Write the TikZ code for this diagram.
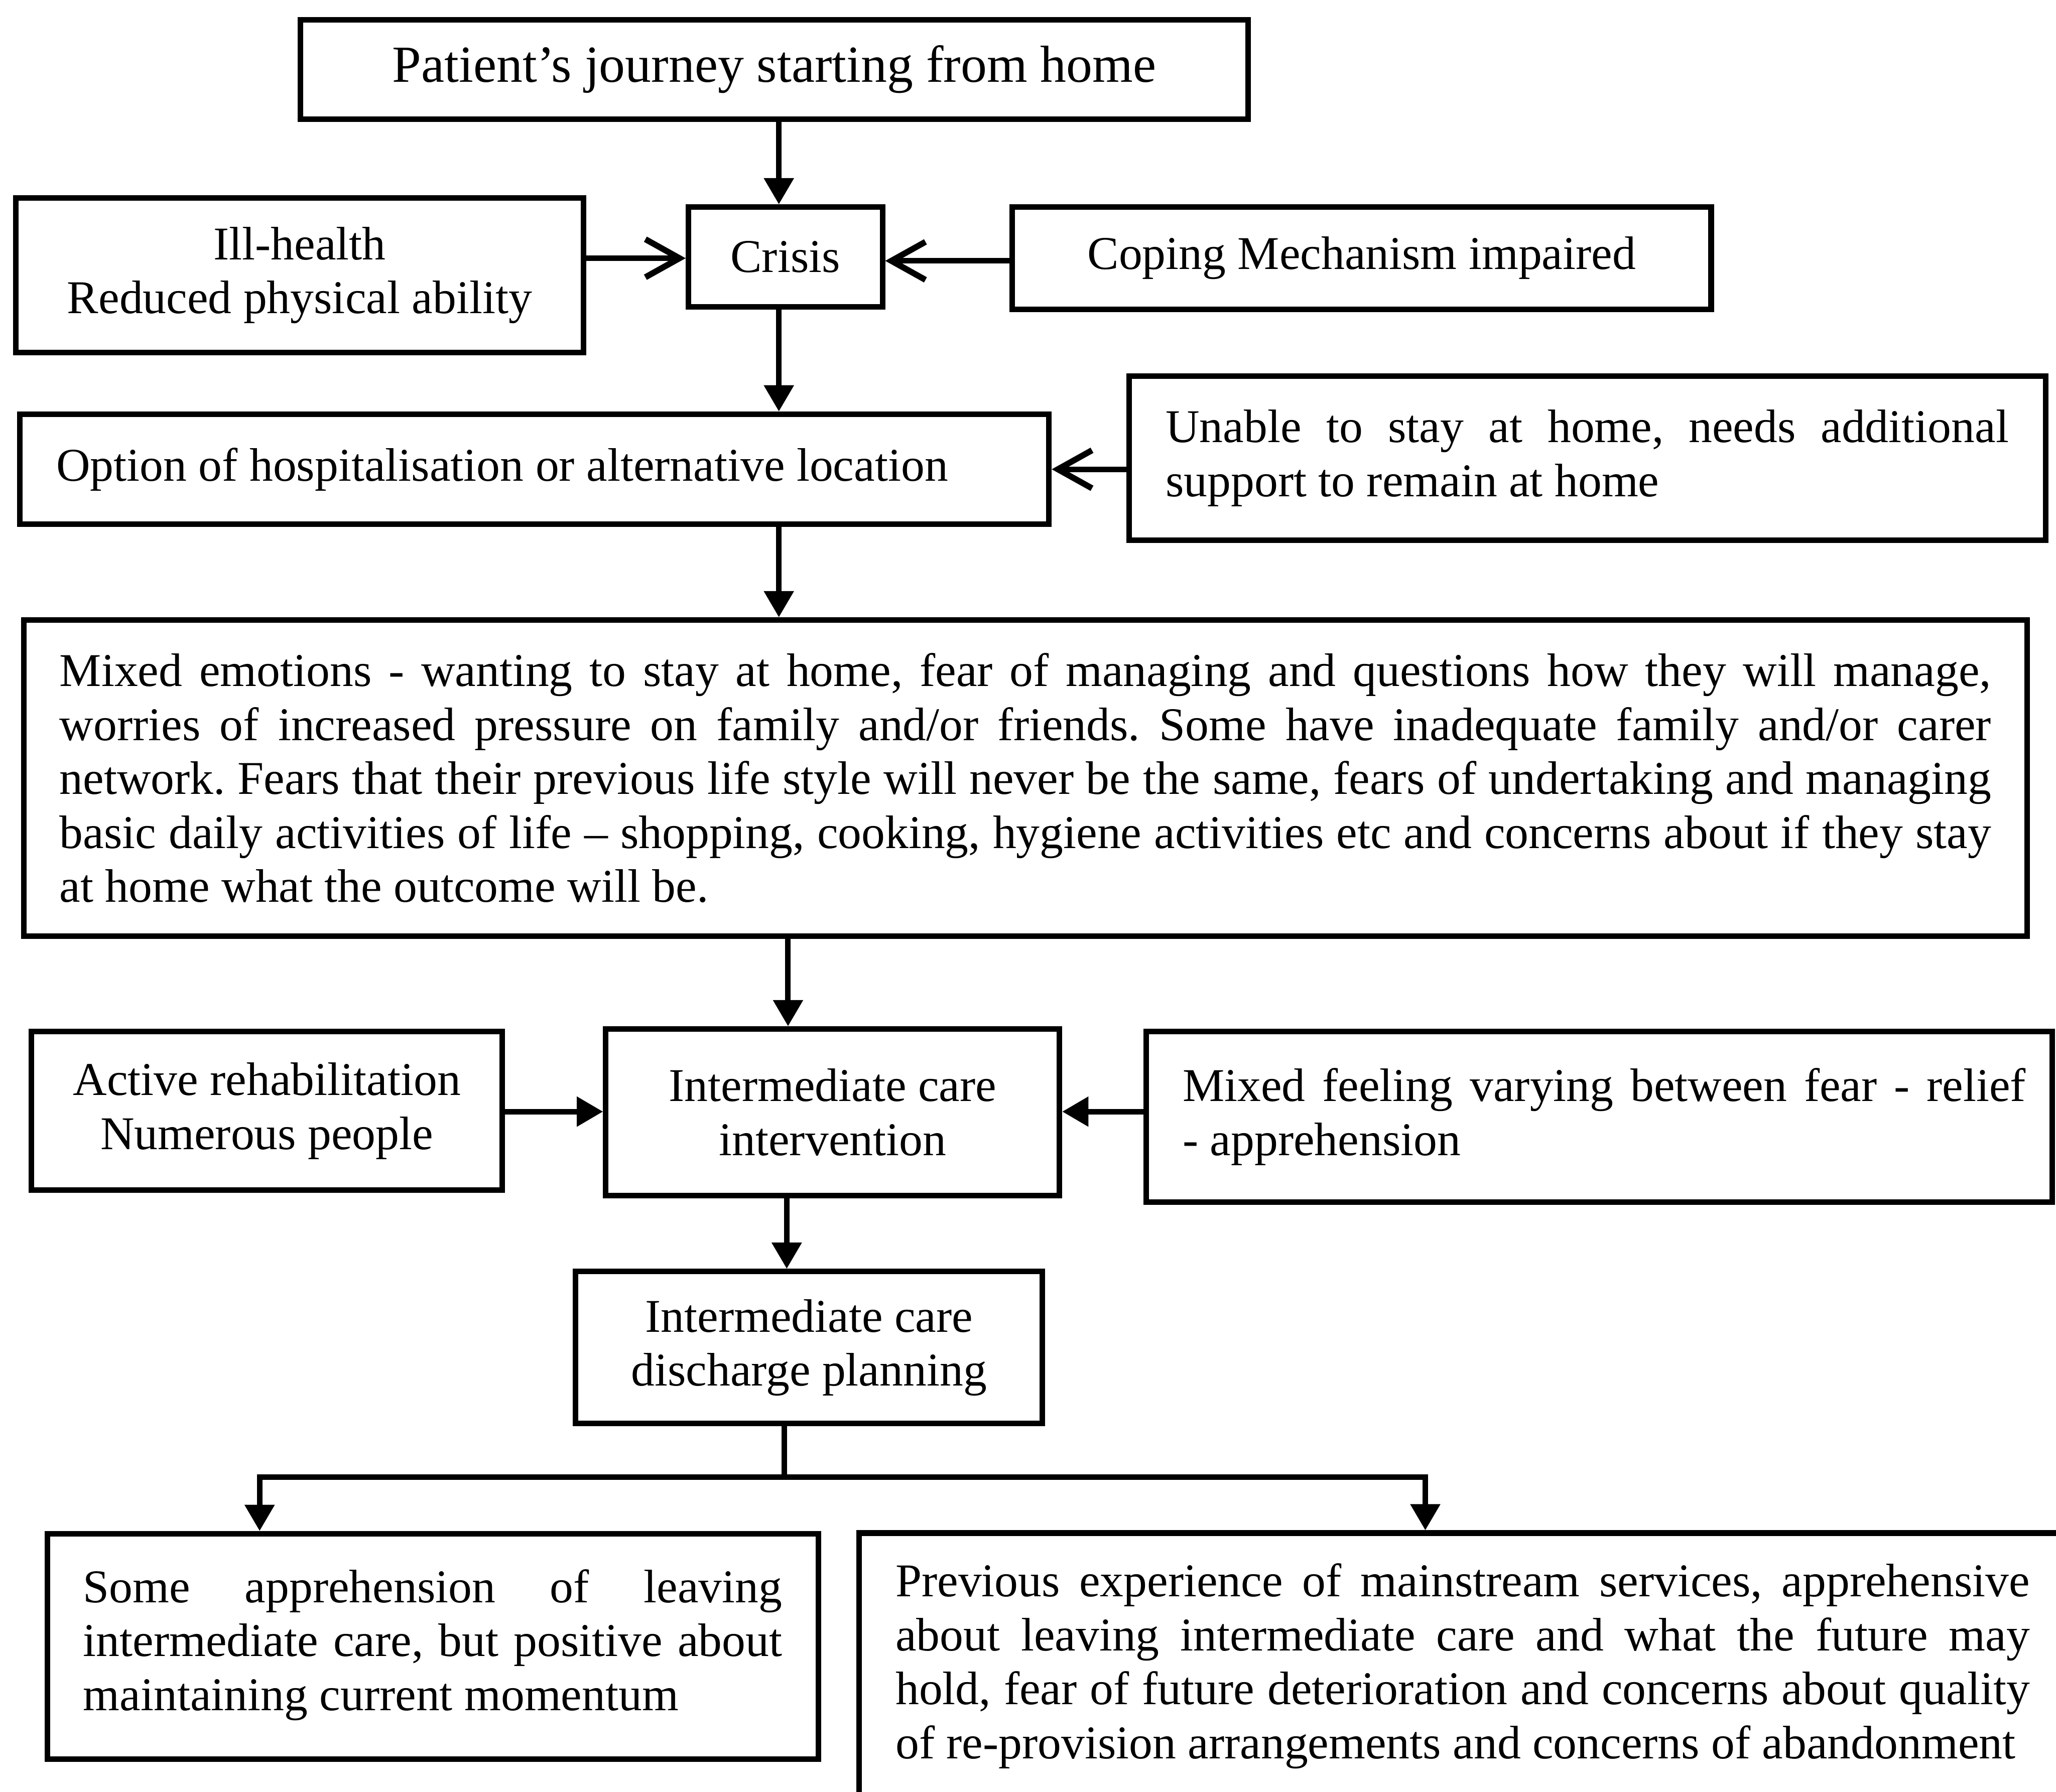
\documentclass[tikz,border=0pt]{standalone}
\usepackage{fontspec}
\setmainfont{Liberation Serif}
\usetikzlibrary{arrows.meta}
% natural (font) interword spaces, no extra space after full stops
\newcommand{\natsp}{\spaceskip=0pt\xspaceskip=0pt\frenchspacing\relax}
% a justified line of a fixed width
\newcommand{\jline}[2]{\makebox[#1][s]{\natsp #2}}
\begin{document}
\begin{tikzpicture}[x=0.1mm,y=-0.1mm,
  box/.style={draw, line width=1.2pt, inner sep=0pt, align=center,
    font=\fontsize{10.2pt}{11.7pt}\selectfont},
  para/.style={box, align=left},
  conn/.style={line width=1.2pt},
  fa/.style={conn, -{Triangle[length=2.0mm,width=2.2mm]}},
  oa/.style={conn, -{Straight Barb[length=2.6mm,width=2.9mm,line width=1.3pt]}}]
\useasboundingbox (0,0) rectangle (1568,1366.8);
\clip (0,0) rectangle (1568,1366.8);

% boxes
\node[box, minimum width=72.3mm, minimum height=7.6mm,
  font=\fontsize{11.3pt}{13pt}\selectfont] (title) at (590.5,53)
  {\natsp\raisebox{-0.25mm}{Patient’s journey starting from home}};
\node[box, minimum width=43.3mm, minimum height=11.8mm] (ill) at (228.5,210)
  {\natsp Ill-health\\Reduced physical ability};
\node[box, minimum width=14.8mm, minimum height=7.6mm] (crisis) at (599,196)
  {\natsp Crisis};
\node[box, minimum width=53.3mm, minimum height=7.8mm] (coping) at (1038.5,197)
  {\natsp Coping Mechanism impaired};
\node[para, minimum width=78.5mm, minimum height=8.4mm, text width=72.9mm] (option) at (407.5,358)
  {\natsp Option of hospitalisation or alternative location};
\node[para, minimum width=69.9mm, minimum height=12.5mm, text width=64.3mm] (unable) at (1210.5,349.5)
  {\natsp\jline{64.3mm}{Unable to stay at home, needs additional}\\
   support to remain at home};
\node[para, minimum width=152.8mm, minimum height=24.1mm, text width=147.3mm] (mixed) at (782,593.5)
  {\natsp\jline{147.3mm}{Mixed emotions - wanting to stay at home, fear of managing and questions how they will manage,}\\
   \jline{147.3mm}{worries of increased pressure on family and/or friends. Some have inadequate family and/or carer}\\
   \jline{147.3mm}{network. Fears that their previous life style will never be the same, fears of undertaking and managing}\\
   \jline{147.3mm}{basic daily activities of life – shopping, cooking, hygiene activities etc and concerns about if they stay}\\
   at home what the outcome will be.};
\node[box, minimum width=35.9mm, minimum height=12.1mm] (active) at (203.5,847.5)
  {\natsp Active rehabilitation\\Numerous people};
\node[box, minimum width=34.6mm, minimum height=12.7mm] (interv) at (635,848.5)
  {\natsp Intermediate care\\intervention};
\node[para, minimum width=69.1mm, minimum height=13.0mm, text width=63.5mm] (feeling) at (1219.5,852)
  {\natsp\jline{64.3mm}{Mixed feeling varying between fear - relief}\\
   - apprehension};
\node[box, minimum width=35.6mm, minimum height=11.6mm] (discharge) at (617,1028)
  {\natsp Intermediate care\\discharge planning};
\node[para, minimum width=58.8mm, minimum height=17.2mm, text width=53.3mm] (leftb) at (330,1256)
  {\natsp\jline{53.3mm}{Some apprehension of leaving}\\
   \jline{53.3mm}{intermediate care, but positive about}\\
   maintaining current momentum\rule[-1.0mm]{0pt}{0pt}};
\node[para, minimum width=92.1mm, minimum height=20.3mm, text width=86.5mm] (rightb) at (1115.5,1271)
  {\natsp\jline{86.5mm}{Previous experience of mainstream services, apprehensive}\\
   \jline{86.5mm}{about leaving intermediate care and what the future may}\\
   \jline{86.5mm}{hold, fear of future deterioration and concerns about quality}\\
   of re-provision arrangements and concerns of abandonment};

% guide points for the connectors
\coordinate (sp) at (594,0);
\coordinate (sp2) at (601,0);
\coordinate (sp3) at (600,0);
\coordinate (fork) at (598,1127);
\coordinate (bl) at (198,1127);
\coordinate (br) at (1087,1127);
\coordinate (h1) at (0,197);
\coordinate (h2) at (0,199);
\coordinate (h3) at (0,358);
\coordinate (h4) at (0,848);

% main flow
\draw[fa] (title.south -| sp) -- (crisis.north -| sp);
\draw[fa] (crisis.south -| sp) -- (option.north -| sp);
\draw[fa] (option.south -| sp) -- (mixed.north -| sp);
\draw[fa] (mixed.south -| sp2) -- (interv.north -| sp2);
\draw[fa] (interv.south -| sp3) -- (discharge.north -| sp3);
\draw[fa] (discharge.south -| fork) -- (fork) -| (leftb.north -| bl);
\draw[fa] (fork) -| (rightb.north -| br);

% side inputs
\draw[oa] (ill.east |- h1) -- (crisis.west |- h1);
\draw[oa] (coping.west |- h2) -- (crisis.east |- h2);
\draw[oa] (unable.west |- h3) -- (option.east |- h3);
\draw[fa] (active.east |- h4) -- (interv.west |- h4);
\draw[fa] (feeling.west |- h4) -- (interv.east |- h4);
\end{tikzpicture}
\end{document}
